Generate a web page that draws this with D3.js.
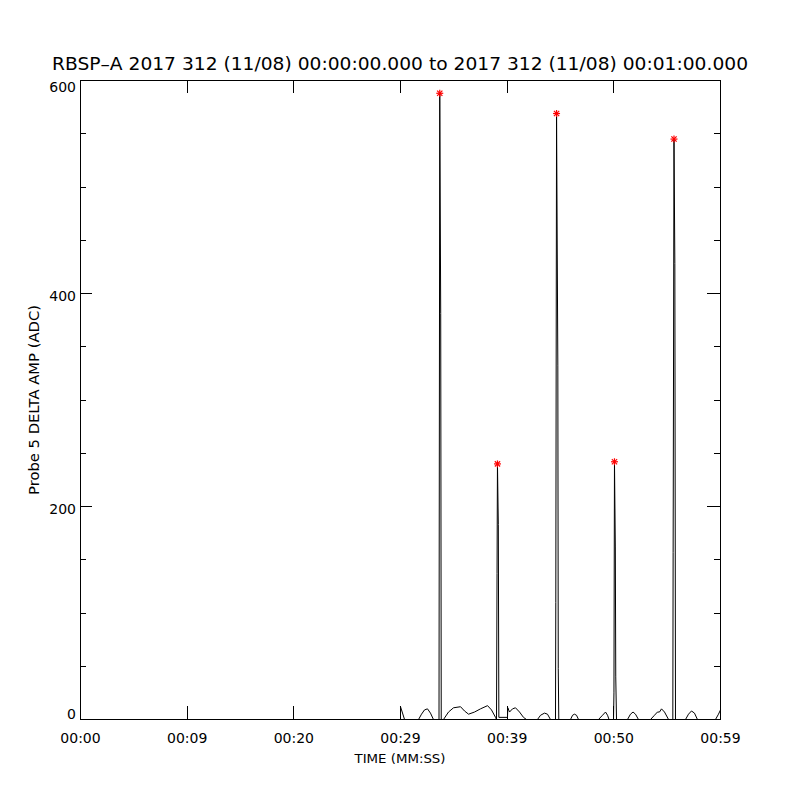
<!DOCTYPE html>
<html>
<head>
<meta charset="utf-8">
<script src="https://cdn.jsdelivr.net/npm/d3@7"></script>
<style>
  body { margin: 0; background: #fff; }
  text { font-family: "DejaVu Sans", sans-serif; fill: #000; }
</style>
</head>
<body>
<script>
// trace: time in seconds from 00:00:00, amplitude in ADC
const traceTime = [30.00, 30.00, 30.38, 31.69, 31.97, 32.25, 32.53, 32.81, 33.09, 33.61,
  33.68, 33.77, 33.82, 34.03, 34.50, 34.97, 35.63, 36.00, 36.38, 36.94,
  37.50, 38.16, 38.53, 38.91, 39.00, 39.05, 39.09, 39.17, 39.22, 40.03,
  40.06, 40.22, 40.50, 40.78, 41.16, 41.53, 41.81, 42.84, 43.13, 43.50,
  43.78, 44.06, 44.53, 44.56, 44.63, 44.75, 44.79, 44.84, 45.94, 46.13,
  46.31, 46.50, 46.69, 48.56, 48.94, 49.22, 49.41, 49.55, 49.97, 50.01,
  50.06, 50.14, 50.18, 50.25, 51.28, 51.56, 51.80, 52.03, 52.31, 53.44,
  53.81, 54.09, 54.28, 54.47, 54.75, 55.13, 55.53, 55.56, 55.64, 55.72,
  55.78, 56.72, 57.00, 57.28, 57.56, 57.84, 59.53, 59.81, 60.00];
const traceAmp = [0, 12, 0, 0, 5, 9, 10, 6, 0, 0,
  588, 381, 0, 0, 7, 11, 12, 8, 5, 7,
  10, 13, 9, 2, 0, 137, 240, 183, 2, 2,
  11, 7, 10, 11, 7, 2, 0, 0, 4, 6,
  5, 0, 0, 110, 569, 332, 48, 0, 0, 4,
  5, 4, 0, 0, 4, 7, 4, 0, 0, 25,
  242, 162, 40, 0, 0, 5, 7, 5, 0, 0,
  4, 7, 7, 10, 7, 0, 0, 157, 545, 428,
  0, 0, 5, 8, 6, 0, 0, 5, 9];

// detected peaks (red asterisks)
const peakTime = [33.68, 39.09, 44.63, 50.06, 55.64];
const peakAmp = [588, 240, 569, 242, 545];

const xTicks = [0, 10, 20, 30, 40, 50, 60];
const xLabels = ["00:00", "00:09", "00:20", "00:29", "00:39", "00:50", "00:59"];
const yMajor = [0, 200, 400, 600];
const yMinor = [50, 100, 150, 250, 300, 350, 450, 500, 550];

const titleText = "RBSP\u2013A 2017 312 (11/08) 00:00:00.000 to 2017 312 (11/08) 00:01:00.000";

let pLeft = 80, pRight = 720, pTop = 80, pBottom = 719;

let svg = d3.select("body").append("svg")
  .attr("width", 800)
  .attr("height", 800);

let x = d3.scaleLinear().domain([0, 60]).range([pLeft, pRight]);
let y = d3.scaleLinear().domain([0, 600]).range([pBottom, pTop]);

// box
svg.append("rect")
  .attr("x", pLeft + 0.5).attr("y", pTop + 0.5)
  .attr("width", pRight - pLeft).attr("height", pBottom - pTop)
  .attr("fill", "none").attr("stroke", "#000")
  .attr("shape-rendering", "crispEdges");

function cleanAxis(g) {
  g.select(".domain").remove();
  g.attr("font-family", null).attr("font-size", null);
  g.selectAll("line").attr("stroke", "#000").attr("shape-rendering", "crispEdges");
}

// bottom axis with labels
let gx = svg.append("g")
  .attr("transform", "translate(0," + pBottom + ")")
  .call(d3.axisBottom(x).tickValues(xTicks).tickSize(-13)
    .tickFormat((d, i) => xLabels[i]))
  .call(cleanAxis);
gx.selectAll("text").attr("y", 24).attr("dy", null).style("font-size", "14px");

// top axis
svg.append("g")
  .attr("transform", "translate(0," + pTop + ")")
  .call(d3.axisTop(x).tickValues(xTicks).tickSize(-13).tickFormat(""))
  .call(cleanAxis);

// left axis
let gy = svg.append("g")
  .attr("transform", "translate(" + pLeft + ",0)")
  .call(d3.axisLeft(y).tickValues(yMajor).tickSize(-12).tickFormat(d3.format("d")))
  .call(cleanAxis);
gy.selectAll("text")
  .attr("x", -4).attr("dy", null)
  .attr("y", d => Math.min(Math.max(7, pTop + 11 - y(d)), pBottom - 1 - y(d)))
  .style("font-size", "14px");
svg.append("g")
  .attr("transform", "translate(" + pLeft + ",0)")
  .call(d3.axisLeft(y).tickValues(yMinor).tickSize(-6).tickFormat(""))
  .call(cleanAxis);

// right axis
svg.append("g")
  .attr("transform", "translate(" + pRight + ",0)")
  .call(d3.axisRight(y).tickValues(yMajor).tickSize(-13).tickFormat(""))
  .call(cleanAxis);
svg.append("g")
  .attr("transform", "translate(" + pRight + ",0)")
  .call(d3.axisRight(y).tickValues(yMinor).tickSize(-6).tickFormat(""))
  .call(cleanAxis);

// trace
let traceData = traceTime.map((t, i) => [t, traceAmp[i]]);
let line = d3.line().x(d => x(d[0]) + 0.5).y(d => y(d[1]) + 0.5);
svg.append("path")
  .datum(traceData)
  .attr("d", line)
  .attr("fill", "none")
  .attr("stroke", "#000")
  .attr("stroke-width", 1);

// peak asterisks
let r = 3.5;
let stars = svg.append("g")
  .selectAll("g")
  .data(peakTime.map((t, i) => [t, peakAmp[i]]))
  .join("g")
  .attr("transform", d => "translate(" + (x(d[0]) + 0.5) + "," + (y(d[1]) + 0.5) + ")");
[[-r, 0, r, 0], [0, -r, 0, r], [-r * 0.75, -r * 0.75, r * 0.75, r * 0.75], [-r * 0.75, r * 0.75, r * 0.75, -r * 0.75]]
  .forEach(s => {
    stars.append("line")
      .attr("x1", s[0]).attr("y1", s[1]).attr("x2", s[2]).attr("y2", s[3])
      .attr("stroke", "#ff0000").attr("stroke-width", 1.2);
  });

// title and axis titles
svg.append("text")
  .attr("x", 400).attr("y", 70)
  .attr("text-anchor", "middle")
  .attr("textLength", 696).attr("lengthAdjust", "spacingAndGlyphs")
  .style("font-size", "17px")
  .text(titleText);

svg.append("text")
  .attr("x", 400).attr("y", 763)
  .attr("text-anchor", "middle")
  .attr("textLength", 91).attr("lengthAdjust", "spacingAndGlyphs")
  .style("font-size", "13px")
  .text("TIME (MM:SS)");

svg.append("text")
  .attr("transform", "translate(39,400) rotate(-90)")
  .attr("text-anchor", "middle")
  .attr("textLength", 190).attr("lengthAdjust", "spacingAndGlyphs")
  .style("font-size", "14px")
  .text("Probe 5 DELTA AMP (ADC)");
</script>
</body>
</html>
